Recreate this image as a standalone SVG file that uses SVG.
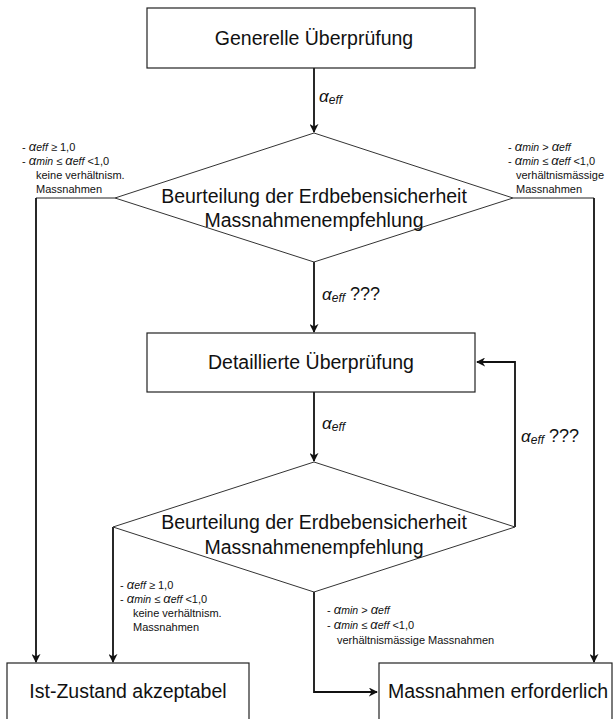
<svg xmlns="http://www.w3.org/2000/svg" width="616" height="719" viewBox="0 0 616 719">
<style>
.bg{fill:#fff}
.box{fill:#fff;stroke:#222;stroke-width:1.2}
.dia{fill:#fff;stroke:#333;stroke-width:1}
.con{fill:none;stroke:#111;stroke-width:1.8}
.thin{fill:none;stroke:#222;stroke-width:1}
.t{font-family:"Liberation Sans",Arial,sans-serif;font-size:19.5px;fill:#111;text-anchor:middle}
.lb{font-family:"Liberation Sans",Arial,sans-serif;fill:#111}
.ga{font-style:italic;font-size:17px}
.gs{font-style:italic;font-size:12px}
.q{font-size:18px}
.sa{font-style:italic;font-size:13px}
.ss{font-style:italic;font-size:10.5px}
.sp{font-size:11px}
</style>
<defs>
<marker id="ah" viewBox="0 0 10 10" refX="9" refY="5" markerWidth="5" markerHeight="5" orient="auto" markerUnits="strokeWidth">
<path d="M0,0 L10,5 L0,10 L3,5 z" fill="#111"/>
</marker>
</defs>
<rect class="bg" x="0" y="0" width="616" height="719"/>

<g id="connectors">
<path class="con" d="M314,68 V132" marker-end="url(#ah)"/>
<path class="con" d="M314,262 V332" marker-end="url(#ah)"/>
<path class="con" d="M314,392 V461" marker-end="url(#ah)"/>
<path class="thin" d="M115,198 L36,198"/>
<path class="con" d="M36,198 V662" marker-end="url(#ah)"/>
<path class="thin" d="M513,198 L594,198"/>
<path class="con" d="M594,198 V662" marker-end="url(#ah)"/>
<path class="con" d="M113,527 V662" marker-end="url(#ah)"/>
<path class="con" d="M314,592 V692 H377" marker-end="url(#ah)"/>
<path class="con" d="M515,527 V362 H477" marker-end="url(#ah)"/>
</g>

<g id="n1">
<rect class="box" x="147" y="8" width="328" height="60"/>
<text class="t" x="314" y="45">Generelle Überprüfung</text>
</g>

<g id="d1">
<polygon class="dia" points="314,133 513,198 314,262 115,198"/>
<text class="t" x="314" y="203">Beurteilung der Erdbebensicherheit</text>
<text class="t" x="314" y="227">Massnahmenempfehlung</text>
</g>

<g id="n2">
<rect class="box" x="147" y="333" width="328" height="59"/>
<text class="t" x="311" y="369">Detaillierte Überprüfung</text>
</g>

<g id="d2">
<polygon class="dia" points="314,462 515,527 314,592 113,527"/>
<text class="t" x="314" y="529">Beurteilung der Erdbebensicherheit</text>
<text class="t" x="314" y="554">Massnahmenempfehlung</text>
</g>

<g id="n3">
<rect class="box" x="7" y="663" width="242" height="70"/>
<text class="t" x="128" y="698">Ist-Zustand akzeptabel</text>
</g>

<g id="n4">
<rect class="box" x="379" y="663" width="233" height="70"/>
<text class="t" x="498" y="698">Massnahmen erforderlich</text>
</g>

<g id="labels">
<text class="lb" x="319" y="102"><tspan class="ga">α</tspan><tspan class="gs" dy="2">eff</tspan></text>
<text class="lb" x="322" y="300"><tspan class="ga">α</tspan><tspan class="gs" dy="2">eff</tspan><tspan class="q" dy="-2"> ???</tspan></text>
<text class="lb" x="322" y="429"><tspan class="ga">α</tspan><tspan class="gs" dy="2">eff</tspan></text>
<text class="lb" x="521" y="442"><tspan class="ga">α</tspan><tspan class="gs" dy="2">eff</tspan><tspan class="q" dy="-2"> ???</tspan></text>

<text class="lb" x="22" y="151"><tspan class="sp">- </tspan><tspan class="sa">α</tspan><tspan class="ss">eff</tspan><tspan class="sp"> ≥ 1,0</tspan></text>
<text class="lb" x="22" y="165"><tspan class="sp">- </tspan><tspan class="sa">α</tspan><tspan class="ss">min</tspan><tspan class="sp"> ≤ </tspan><tspan class="sa">α</tspan><tspan class="ss">eff</tspan><tspan class="sp"> &lt;1,0</tspan></text>
<text class="lb sp" x="36" y="179">keine verhältnism.</text>
<text class="lb sp" x="36" y="193">Massnahmen</text>

<text class="lb" x="508" y="151"><tspan class="sp">- </tspan><tspan class="sa">α</tspan><tspan class="ss">min</tspan><tspan class="sp"> &gt; </tspan><tspan class="sa">α</tspan><tspan class="ss">eff</tspan></text>
<text class="lb" x="508" y="165"><tspan class="sp">- </tspan><tspan class="sa">α</tspan><tspan class="ss">min</tspan><tspan class="sp"> ≤ </tspan><tspan class="sa">α</tspan><tspan class="ss">eff</tspan><tspan class="sp"> &lt;1,0</tspan></text>
<text class="lb sp" x="516" y="179">verhältnismässige</text>
<text class="lb sp" x="516" y="193">Massnahmen</text>

<text class="lb" x="120" y="589"><tspan class="sp">- </tspan><tspan class="sa">α</tspan><tspan class="ss">eff</tspan><tspan class="sp"> ≥ 1,0</tspan></text>
<text class="lb" x="120" y="603"><tspan class="sp">- </tspan><tspan class="sa">α</tspan><tspan class="ss">min</tspan><tspan class="sp"> ≤ </tspan><tspan class="sa">α</tspan><tspan class="ss">eff</tspan><tspan class="sp"> &lt;1,0</tspan></text>
<text class="lb sp" x="133" y="617">keine verhältnism.</text>
<text class="lb sp" x="133" y="631">Massnahmen</text>

<text class="lb" x="327" y="614"><tspan class="sp">- </tspan><tspan class="sa">α</tspan><tspan class="ss">min</tspan><tspan class="sp"> &gt; </tspan><tspan class="sa">α</tspan><tspan class="ss">eff</tspan></text>
<text class="lb" x="327" y="629"><tspan class="sp">- </tspan><tspan class="sa">α</tspan><tspan class="ss">min</tspan><tspan class="sp"> ≤ </tspan><tspan class="sa">α</tspan><tspan class="ss">eff</tspan><tspan class="sp"> &lt;1,0</tspan></text>
<text class="lb sp" x="337" y="644">verhältnismässige Massnahmen</text>
</g>
</svg>
